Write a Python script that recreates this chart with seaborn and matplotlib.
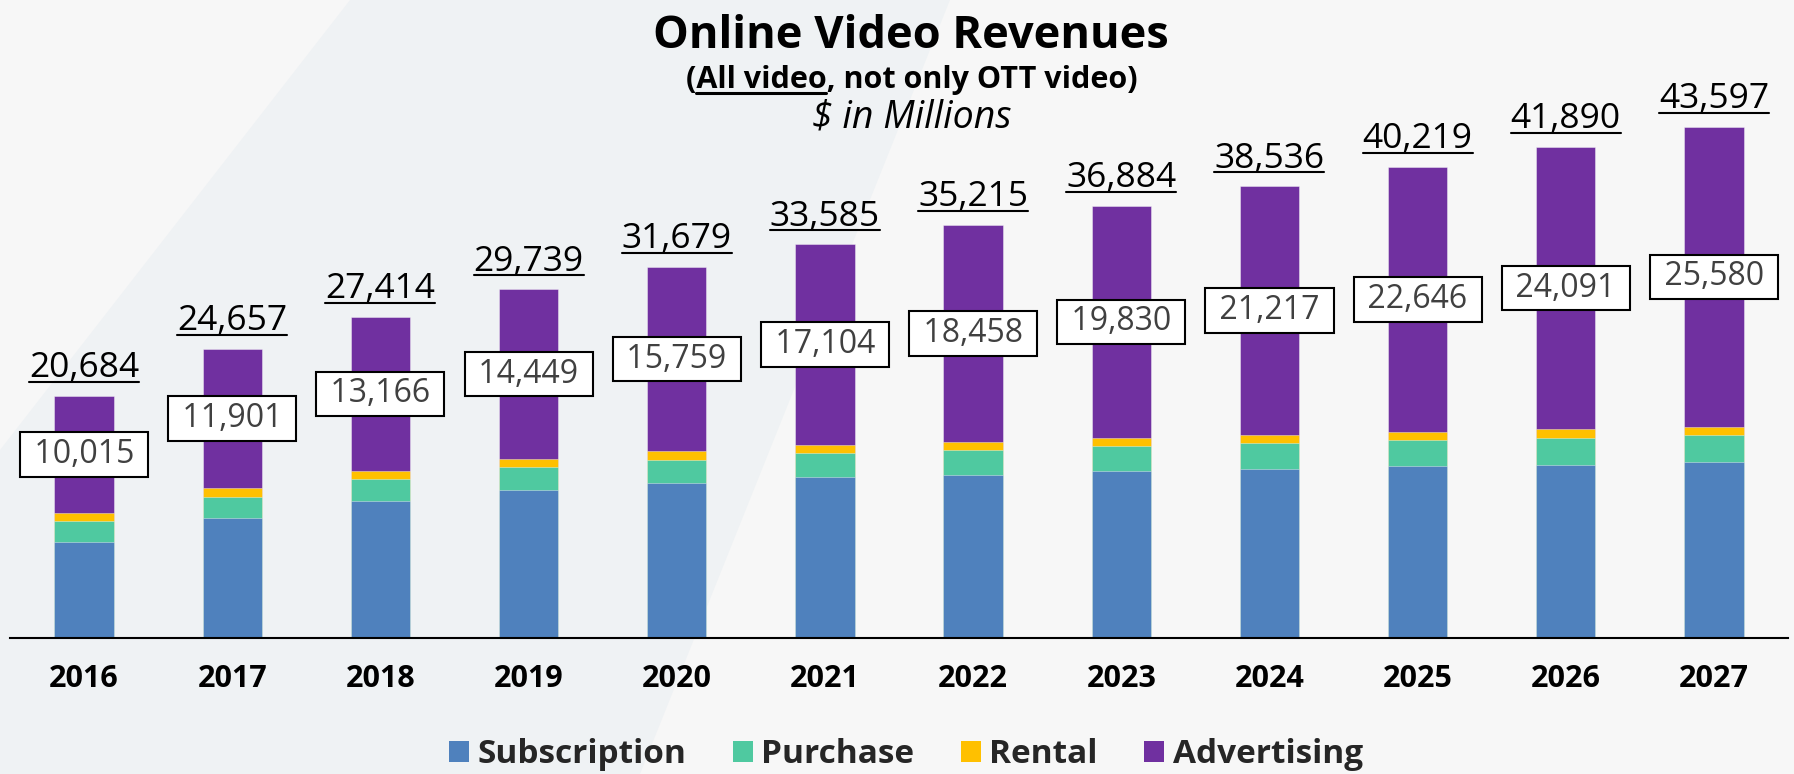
import numpy as np
import pandas as pd
import matplotlib.pyplot as plt
from matplotlib.patches import Patch, Polygon
from matplotlib.lines import Line2D
import seaborn as sns

# Data (US$ millions)
years = ['2016', '2017', '2018', '2019', '2020', '2021',
         '2022', '2023', '2024', '2025', '2026', '2027']
subscription = [8230, 10245, 11662, 12600, 13200, 13700, 13930, 14250, 14440, 14660, 14800, 15020]
purchase = [1715, 1765, 1880, 1970, 2000, 2060, 2110, 2090, 2190, 2200, 2225, 2275]
rental = [724, 746, 706, 720, 720, 721, 717, 714, 689, 713, 774, 722]
advertising = [10015, 11901, 13166, 14449, 15759, 17104, 18458, 19830, 21217, 22646, 24091, 25580]
totals = [20684, 24657, 27414, 29739, 31679, 33585, 35215, 36884, 38536, 40219, 41890, 43597]

series = ['Subscription', 'Purchase', 'Rental', 'Advertising']
colors = ['#4F81BD', '#4FC9A0', '#FFC000', '#7030A0']

df = pd.DataFrame({'year': years, 'Subscription': subscription, 'Purchase': purchase,
                   'Rental': rental, 'Advertising': advertising})
# cumulative heights for back-to-front stacking
df['c_sub'] = df['Subscription']
df['c_pur'] = df['c_sub'] + df['Purchase']
df['c_ren'] = df['c_pur'] + df['Rental']
df['c_adv'] = df['c_ren'] + df['Advertising']

sns.set_theme(style='white')
plt.rcParams['font.family'] = ['Open Sans', 'DejaVu Sans']

W, H = 1794, 774
fig = plt.figure(figsize=(W / 100, H / 100), dpi=100)
fig.set_facecolor('#F7F7F7')

# faint slide-background band
fig.patches.append(Polygon([(350 / W, 1), (950 / W, 1), (640 / W, 0), (0, 0), (0, 1 - 450 / H)],
                           closed=True, transform=fig.transFigure, facecolor='#EFF2F4',
                           edgecolor='none', zorder=-10))

ax = fig.add_axes([10 / W, 136 / H, 1778 / W, 538 / H])
ax.set_facecolor('none')

edge = (1, 1, 1, 0.45)
for col, c in zip(['c_adv', 'c_ren', 'c_pur', 'c_sub'], colors[::-1]):
    sns.barplot(data=df, x='year', y=col, color=c, width=0.4, saturation=1,
                errorbar=None, edgecolor=edge, linewidth=0.6, ax=ax)

ax.set_xlim(-0.5, 11.5)
ax.set_ylim(0, 45900)
ax.set_xlabel('')
ax.set_ylabel('')
ax.set_yticks([])
for s in ['top', 'right', 'left']:
    ax.spines[s].set_visible(False)
ax.spines['bottom'].set_color('black')
ax.spines['bottom'].set_linewidth(1.5)
ax.tick_params(axis='x', length=0, pad=19)
for lab in ax.get_xticklabels():
    lab.set_fontweight('bold')
    lab.set_fontsize(22)
    lab.set_color('black')

# advertising value boxes
for i in range(len(years)):
    y = df['c_ren'][i] + advertising[i] / 2
    ax.text(i, y, ' ' + f'{advertising[i]:,}' + ' ', ha='center', va='center',
            fontsize=23, color='#404040',
            bbox=dict(boxstyle='square,pad=0.18', facecolor='white',
                      edgecolor='black', linewidth=1.5))

# totals, underlined
total_texts = []
for i, t in enumerate(totals):
    tx = ax.annotate(f'{t:,}', xy=(i, t), xytext=(0, 13.5), textcoords='offset points',
                     ha='center', va='baseline', fontsize=25.5, color='black')
    total_texts.append(tx)

# titles
fig.text(0.508, 1 - 48 / H, 'Online Video Revenues', ha='center', va='baseline',
         fontsize=32.5, fontweight='bold', color='black')
sub = fig.text(0.508, 1 - 88 / H, '(All video, not only OTT video)', ha='center',
               va='baseline', fontsize=22, fontweight='bold', color='black')
fig.text(0.508, 1 - 128 / H, '$ in Millions', ha='center', va='baseline',
         fontsize=27, style='italic', color='black')

# legend
handles = [Patch(facecolor=c, edgecolor='none') for c in colors]
fig.legend(handles, series, loc='lower center', bbox_to_anchor=(0.505, -0.035), ncol=4,
           frameon=False, handlelength=0.6, handleheight=0.6, handletextpad=0.25,
           columnspacing=1.4, prop={'weight': 'bold', 'size': 24})

# underlines need text extents
fig.canvas.draw()
renderer = fig.canvas.get_renderer()
inv = fig.transFigure.inverted()
for i, tx in enumerate(total_texts):
    bb = tx.get_window_extent(renderer)
    ytop = ax.transData.transform((i, totals[i]))[1] + 14
    (x0, y0), (x1, y1) = inv.transform([(bb.x0, ytop), (bb.x1, ytop)])
    fig.lines.append(Line2D([x0, x1], [y0, y1], transform=fig.transFigure,
                            color='black', linewidth=1.5))

# underline "All video" in the subtitle
sbb = sub.get_window_extent(renderer)
tmp = fig.text(0, 0, '(', fontsize=22, fontweight='bold')
w_open = tmp.get_window_extent(renderer).width
tmp.set_text('(All video')
w_all = tmp.get_window_extent(renderer).width
tmp.remove()
ybase = H - 88 - 5
(x0, y0), (x1, y1) = inv.transform([(sbb.x0 + w_open, ybase), (sbb.x0 + w_all, ybase)])
fig.lines.append(Line2D([x0, x1], [y0, y1], transform=fig.transFigure,
                        color='black', linewidth=2.2))

fig.savefig('out.png', dpi=100, facecolor=fig.get_facecolor())
